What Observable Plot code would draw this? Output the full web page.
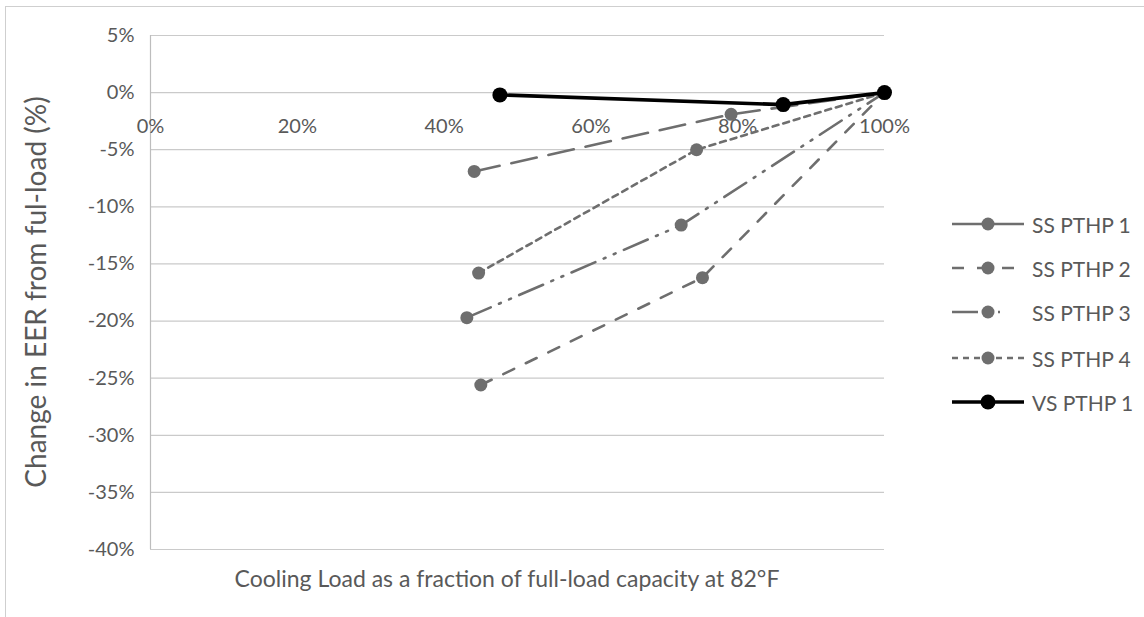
<!DOCTYPE html>
<html><head><meta charset="utf-8">
<script src="https://cdn.jsdelivr.net/npm/d3@7"></script>
<script src="https://cdn.jsdelivr.net/npm/@observablehq/plot@0.6"></script>
<style>
body{margin:0;background:#fff;font-family:Lato,"Open Sans",sans-serif;}
#wrap{position:relative;width:1144px;height:617px;overflow:hidden;}
#border{position:absolute;left:5px;top:6px;width:1200px;height:700px;border-left:1px solid #cfcfcf;border-top:1px solid #cfcfcf;}
#plot{position:absolute;left:0;top:0;}
.lg{position:absolute;left:952px;height:24px;display:flex;align-items:center;}
.lg span{margin-left:6px;font-size:21px;color:#595959;white-space:nowrap;}
#xt{position:absolute;left:0;width:1014px;top:564px;text-align:center;font-size:23px;color:#595959;}
#yt{position:absolute;left:35px;top:292px;transform:translate(-50%,-50%) rotate(-90deg);font-size:28px;color:#595959;white-space:nowrap;}
</style></head>
<body>
<div id="wrap">
<div id="border"></div>
<div id="plot"></div>
<div id="xt">Cooling Load as a fraction of full-load capacity at 82°F</div>
<div id="yt">Change in EER from ful-load (%)</div>
</div>
<script>
const series = ["SS PTHP 1","SS PTHP 2","SS PTHP 3","SS PTHP 4","VS PTHP 1"];
const loadSS1 = [44.1, 79.1, 100];
const eerSS1  = [-6.9, -1.9, 0];
const loadSS2 = [45.0, 75.2, 100];
const eerSS2  = [-25.6, -16.2, 0];
const loadSS3 = [43.1, 72.3, 100];
const eerSS3  = [-19.7, -11.6, 0];
const loadSS4 = [44.7, 74.4, 100];
const eerSS4  = [-15.8, -5.0, 0];
const loadVS1 = [47.6, 86.2, 100];
const eerVS1  = [-0.2, -1.05, 0];
const xTicks = [0, 20, 40, 60, 80, 100];
const yTicks = [5, 0, -5, -10, -15, -20, -25, -30, -35, -40];

const loads = [loadSS1, loadSS2, loadSS3, loadSS4, loadVS1];
const eers = [eerSS1, eerSS2, eerSS3, eerSS4, eerVS1];
const styles = [
  {stroke:"#6e6e6e", w:2.6, dash:"26,12", legendDash:null, legendLen:72, r:6.5},
  {stroke:"#6e6e6e", w:2.6, dash:"12,13", legendDash:"12,13", legendLen:72, r:6.5},
  {stroke:"#6e6e6e", w:2.6, dash:"26,9,2,9,2,9", legendDash:"26,9,2,9,2,9", legendLen:56, r:6.5},
  {stroke:"#6e6e6e", w:2.6, dash:"6,5", legendDash:"6,5", legendLen:72, r:6.5},
  {stroke:"#000000", w:3.6, dash:null, legendDash:null, legendLen:72, r:7.5}
];
const rows = series.map((s,i)=>loads[i].map((x,j)=>({series:s, x, y:eers[i][j]})));

const marks = [
  Plot.ruleY(yTicks, {stroke:"#cacaca", strokeWidth:1.2}),
  Plot.ruleX([0], {y1:-40, y2:5, stroke:"#bdbdbd", strokeWidth:1.2}),
  Plot.axisY({ticks:yTicks, tickFormat:d=>d+"%", tickSize:0, tickPadding:16, fontSize:20, color:"#595959", label:null}),
  Plot.text(xTicks, {x:d=>d, y:0, dy:34, text:d=>d+"%", fontSize:20, fill:"#595959"})
];
series.forEach((s,i)=>{
  const st = styles[i];
  marks.push(Plot.line(rows[i], {x:"x", y:"y", stroke:st.stroke, strokeWidth:st.w, strokeDasharray:st.dash}));
});
series.forEach((s,i)=>{
  const st = styles[i];
  marks.push(Plot.dot(rows[i], {x:"x", y:"y", r:st.r, fill:st.stroke, stroke:"none"}));
});

const chart = Plot.plot({
  width:1144, height:617,
  marginLeft:150, marginRight:260, marginTop:35, marginBottom:68,
  x:{domain:[0,100], axis:null},
  y:{domain:[-40,5], axis:null},
  style:{background:"transparent", fontFamily:"Lato, 'Open Sans', sans-serif"},
  marks
});
document.getElementById("plot").appendChild(chart);

const legendY = [224, 268, 312, 358, 402];
const wrap = document.getElementById("wrap");
series.forEach((s,i)=>{
  const st = styles[i];
  const d = document.createElement("div");
  d.className = "lg";
  d.style.top = (legendY[i]-12)+"px";
  d.innerHTML = `<svg width="74" height="24"><line x1="0" y1="12" x2="${st.legendLen}" y2="12" stroke="${st.stroke}" stroke-width="${st.w}" ${st.legendDash?`stroke-dasharray="${st.legendDash}"`:""}/><circle cx="36" cy="12" r="${st.r}" fill="${st.stroke}"/></svg><span>${s}</span>`;
  wrap.appendChild(d);
});
</script>
</body></html>
